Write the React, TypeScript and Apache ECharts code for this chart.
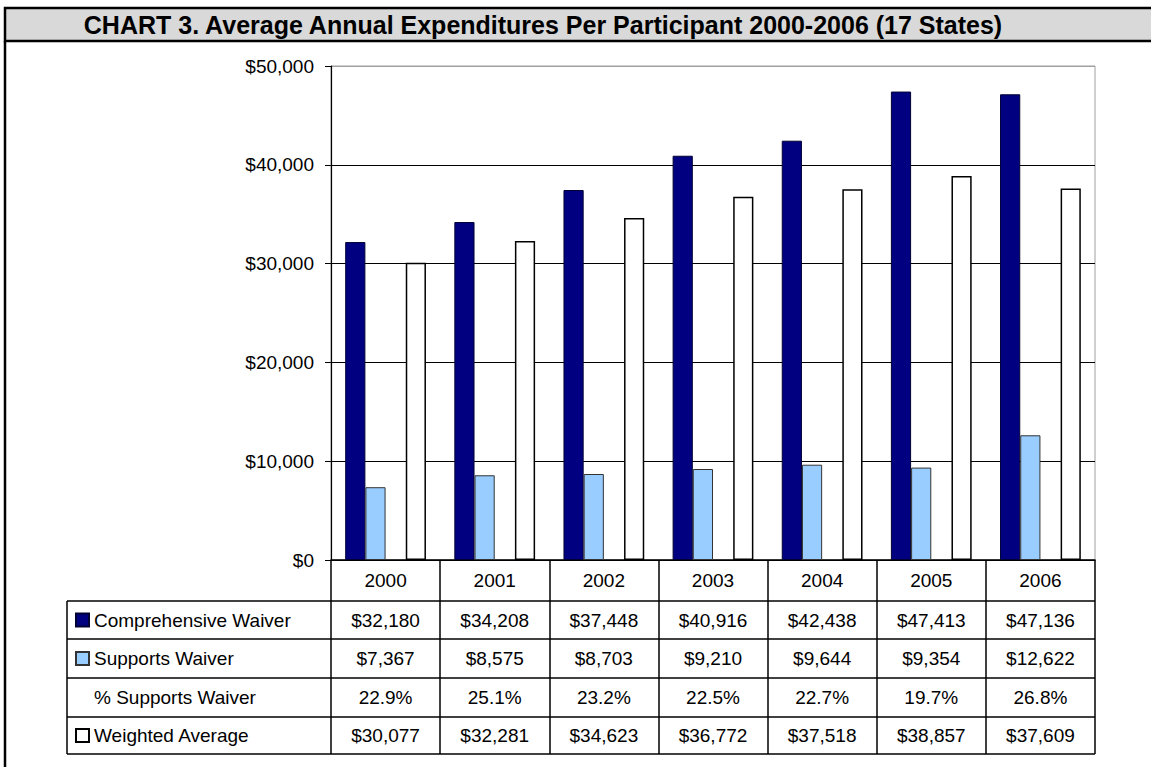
import React, { useEffect, useRef } from "react";
import * as echarts from "echarts";

const years = ["2000", "2001", "2002", "2003", "2004", "2005", "2006"];
const comprehensive = [32180, 34208, 37448, 40916, 42438, 47413, 47136];
const supports = [7367, 8575, 8703, 9210, 9644, 9354, 12622];
const pctSupports = [22.9, 25.1, 23.2, 22.5, 22.7, 19.7, 26.8];
const weighted = [30077, 32281, 34623, 36772, 37518, 38857, 37609];
const seriesNames = [
  "Comprehensive Waiver",
  "Supports Waiver",
  "% Supports Waiver",
  "Weighted Average",
];
const yMin = 0;
const yMax = 50000;
const yStep = 10000;
const titleText =
  "CHART 3. Average Annual Expenditures Per Participant 2000-2006 (17 States)";

const W = 1151;
const H = 767;
const FONT = '"Liberation Sans", Arial, sans-serif';

// layout constants
const gridLeft = 331;
const gridRight = 1095;
const gridTop = 66;
const axisY = 560;
const tableLeft = 67;
const rowLines = [601, 639, 678, 717, 754];

const money = (v: number) => "$" + v.toLocaleString("en-US");
const pct = (v: number) => v.toFixed(1) + "%";

export default function App() {
  const ref = useRef<HTMLDivElement>(null);
  useEffect(() => {
    document.body.style.margin = "0";
    document.body.style.overflow = "hidden";
    const chart = echarts.init(ref.current!, null, { renderer: "svg" });

    const rowData = [
      comprehensive.map(money),
      supports.map(money),
      pctSupports.map(pct),
      weighted.map(money),
    ];
    const rowCenters = rowLines.slice(0, 4).map((y, i) => (y + rowLines[i + 1]) / 2);

    const extraAxes = rowData.map((d, i) => ({
      type: "category",
      gridIndex: 0,
      position: "bottom",
      data: d,
      axisLine: { show: false },
      axisTick: { show: false },
      splitLine: { show: false },
      axisLabel: {
        interval: 0,
        margin: rowCenters[i] - axisY,
        verticalAlign: "middle",
        fontSize: 19,
        color: "#000",
        fontFamily: FONT,
      },
    }));

    const lines: any[] = rowLines.map((y) => ({
      type: "line",
      shape: { x1: tableLeft, y1: y, x2: gridRight, y2: y },
      style: { stroke: "#000", lineWidth: 1.5 },
      z: 10,
    }));
    lines.push({
      type: "line",
      shape: { x1: tableLeft, y1: rowLines[0], x2: tableLeft, y2: rowLines[rowLines.length - 1] },
      style: { stroke: "#000", lineWidth: 1.5 },
      z: 10,
    });

    const option: any = {
      animation: false,
      backgroundColor: "#fff",
      textStyle: { fontFamily: FONT },
      grid: {
        left: gridLeft,
        right: W - gridRight,
        top: gridTop,
        bottom: H - axisY,
        show: true,
        borderColor: "#a0a0a0",
        borderWidth: 1,
        backgroundColor: "#fff",
      },
      legend: {
        orient: "vertical",
        left: tableLeft + 3,
        top: rowCenters[0] - 15,
        selectedMode: false,
        itemWidth: 13,
        itemHeight: 13,
        itemGap: 18.5,
        icon: "rect",
        textStyle: { fontSize: 19, color: "#000", lineHeight: 20, fontFamily: FONT },
        data: seriesNames,
      },
      graphic: [
        {
          type: "rect",
          shape: { x: 5, y: 8, width: W + 10, height: 33 },
          style: { fill: "#d9d9d9", stroke: "#000", lineWidth: 2.5 },
          z: 20,
        },
        {
          type: "line",
          shape: { x1: 5, y1: 41, x2: 5, y2: H + 5 },
          style: { stroke: "#000", lineWidth: 2.5 },
          z: 20,
        },
        {
          type: "text",
          x: 543,
          y: 25,
          style: {
            text: titleText,
            font: `bold 25px ${FONT}`,
            fill: "#000",
            textAlign: "center",
            textVerticalAlign: "middle",
          },
          z: 21,
        },
        ...lines,
      ],
      xAxis: [
        {
          type: "category",
          data: years,
          position: "bottom",
          axisLine: { show: true, lineStyle: { color: "#000", width: 1.5 } },
          axisTick: {
            show: true,
            interval: 0,
            length: rowLines[rowLines.length - 1] - axisY,
            lineStyle: { color: "#000", width: 1.5 },
          },
          axisLabel: {
            interval: 0,
            margin: (axisY + rowLines[0]) / 2 - axisY,
            verticalAlign: "middle",
            fontSize: 19,
            color: "#000",
            fontFamily: FONT,
          },
          splitLine: { show: false },
        },
        ...extraAxes,
      ],
      yAxis: {
        type: "value",
        min: yMin,
        max: yMax,
        interval: yStep,
        axisLine: { show: true, lineStyle: { color: "#000", width: 1.2 } },
        axisTick: { show: true, length: 6, lineStyle: { color: "#000" } },
        axisLabel: {
          margin: 17,
          fontSize: 19,
          color: "#000",
          fontFamily: FONT,
          formatter: (v: number) => money(v),
        },
        splitLine: {
          show: true,
          lineStyle: {
            color: ["#000", "#000", "#000", "#000", "#000", "#a0a0a0"],
            width: 1.2,
          },
        },
      },
      series: [
        {
          name: seriesNames[0],
          type: "bar",
          data: comprehensive,
          barGap: "0%",
          barCategoryGap: "26%",
          itemStyle: { color: "#000080", borderColor: "#000033", borderWidth: 1 },
        },
        {
          name: seriesNames[1],
          type: "bar",
          data: supports,
          itemStyle: { color: "#99ccff", borderColor: "#333333", borderWidth: 1 },
        },
        {
          name: seriesNames[2],
          type: "bar",
          data: pctSupports,
          itemStyle: { color: "rgba(0,0,0,0)", borderWidth: 0 },
        },
        {
          name: seriesNames[3],
          type: "bar",
          data: weighted,
          itemStyle: { color: "#ffffff", borderColor: "#000", borderWidth: 1.5 },
        },
      ],
    };
    chart.setOption(option);
    return () => chart.dispose();
  }, []);
  return <div ref={ref} style={{ width: W, height: H }} />;
}
